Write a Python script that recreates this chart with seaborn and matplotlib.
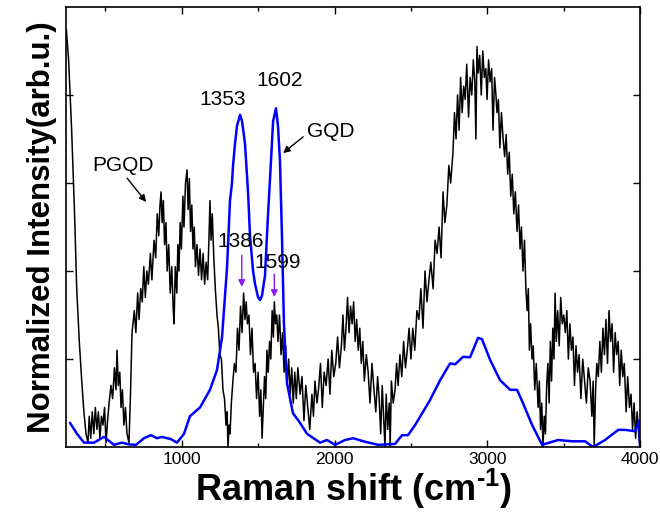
import matplotlib
matplotlib.use("Agg")
import matplotlib.pyplot as plt
import seaborn as sns

# PGQD spectrum (black, noisy)
pgqd_shift = [
    245, 260, 280, 300, 313, 330, 346, 360, 374, 387,
    395, 405, 415, 425, 435, 445, 455, 465, 475, 485, 495, 505, 515,
    525, 537, 548, 560, 570, 577, 585, 595, 603, 612, 622, 632, 642, 655,
    665, 675, 690, 700, 712, 721, 732, 742, 752, 762,
    772, 782, 795, 805, 819, 830, 840, 850, 858, 865,
    872, 880, 888, 897, 905, 915, 925, 935, 945, 950,
    958, 968, 975, 982, 990, 998, 1008, 1015, 1025, 1035,
    1042, 1050, 1058, 1066, 1074, 1082, 1090, 1100, 1110, 1120,
    1130, 1140, 1150, 1160, 1170, 1178, 1185, 1192, 1200, 1210,
    1220, 1231, 1240, 1250, 1260, 1270, 1280, 1290, 1297, 1303,
    1310, 1316,
    1325, 1335, 1345, 1355, 1365, 1375, 1385, 1395, 1405, 1414,
    1422, 1430, 1440, 1450, 1460, 1470, 1480, 1490, 1500, 1510,
    1518, 1526, 1534, 1542, 1550, 1558, 1566, 1575, 1583, 1592,
    1600, 1606, 1614, 1622, 1630, 1640, 1650, 1660, 1670, 1680,
    1690, 1700, 1710, 1720, 1730, 1740, 1750, 1760,
    1775, 1787, 1800, 1812, 1825, 1838, 1852, 1862, 1872, 1885,
    1895, 1908, 1920, 1932, 1945, 1958, 1970, 1982, 1995, 2008,
    2020, 2032, 2045, 2055, 2065, 2075, 2085, 2095, 2105, 2115,
    2125, 2135, 2145, 2155, 2165, 2175, 2185, 2195, 2208, 2220,
    2232, 2245, 2258, 2270, 2282, 2292, 2302, 2312, 2322, 2330,
    2338, 2348, 2358, 2364, 2372, 2384, 2396, 2406, 2416, 2428,
    2440, 2452, 2464, 2476, 2488, 2500,
    2512, 2525, 2539, 2552, 2565, 2579, 2592, 2605, 2618, 2630,
    2645, 2658, 2671, 2684, 2697, 2710, 2722, 2735, 2748, 2760,
    2775, 2785, 2795, 2805, 2815, 2825, 2835, 2845, 2855, 2865,
    2877, 2887, 2898, 2908, 2918, 2925, 2932, 2940, 2950, 2960,
    2970, 2980, 2990, 2998, 3008, 3018, 3028, 3037, 3047, 3056,
    3063, 3072, 3082, 3092, 3103, 3113, 3123, 3133, 3143, 3153,
    3163, 3173, 3183, 3194, 3204, 3214, 3223, 3233, 3243, 3252,
    3260, 3268, 3275, 3283,
    3292, 3300, 3310, 3320, 3332, 3340, 3348, 3356, 3364, 3372,
    3380, 3388, 3396, 3404, 3412, 3420, 3428, 3436, 3443, 3451,
    3460, 3470, 3480, 3490, 3500, 3510, 3520, 3530, 3540, 3550,
    3560, 3570, 3580, 3590, 3600, 3612, 3624, 3636, 3648, 3660,
    3672, 3684, 3692, 3699, 3708, 3716, 3726, 3736, 3746, 3756,
    3766, 3776, 3786, 3796, 3806, 3816, 3826, 3836, 3846, 3856,
    3866, 3876, 3886, 3896, 3908, 3918, 3930, 3940, 3950, 3960,
    3970, 3980, 3990, 3998,
]
pgqd_int = [
    0.95, 0.88, 0.72, 0.52, 0.36, 0.24, 0.15, 0.08, 0.03, 0.01,
    0.07, 0.02, 0.08, 0.03, 0.09, 0.04, 0.08, 0.02, 0.07, 0.05, 0.09, 0.01, 0.06,
    0.10, 0.14, 0.11, 0.18, 0.13, 0.22, 0.14, 0.17, 0.09, 0.13, 0.05, 0.09, 0.03, 0.01,
    0.12, 0.26, 0.31, 0.26, 0.35, 0.29, 0.36, 0.33, 0.41, 0.34,
    0.40, 0.37, 0.44, 0.38, 0.47, 0.43, 0.53, 0.48, 0.55, 0.58,
    0.51, 0.56, 0.46, 0.51, 0.40, 0.46, 0.35, 0.41, 0.31, 0.28,
    0.41, 0.35, 0.46, 0.40, 0.51, 0.45, 0.57, 0.50, 0.60, 0.63,
    0.54, 0.61, 0.49, 0.55, 0.45, 0.50, 0.41, 0.46, 0.39, 0.45,
    0.38, 0.44, 0.37, 0.42, 0.38, 0.47, 0.56, 0.47, 0.53, 0.43,
    0.36, 0.30, 0.27, 0.21, 0.20, 0.13, 0.11, 0.05, 0.08, 0.00,
    0.05, 0.03,
    0.10, 0.15, 0.19, 0.17, 0.27, 0.22, 0.32, 0.26, 0.35, 0.29,
    0.33, 0.28, 0.30, 0.21, 0.27, 0.17, 0.19, 0.11, 0.17, 0.07,
    0.13, 0.02, 0.09, 0.16, 0.11, 0.22, 0.17, 0.24, 0.20, 0.31,
    0.25, 0.33, 0.28, 0.30, 0.24, 0.30, 0.21, 0.26, 0.17, 0.23,
    0.14, 0.20, 0.12, 0.18, 0.10, 0.17, 0.11, 0.18,
    0.12, 0.16, 0.06, 0.14, 0.09, 0.04, 0.12, 0.07, 0.15, 0.10,
    0.13, 0.19, 0.09, 0.17, 0.14, 0.20, 0.12, 0.22, 0.16, 0.19,
    0.25, 0.18, 0.23, 0.30, 0.22, 0.27, 0.34, 0.26, 0.32, 0.28,
    0.33, 0.24, 0.29, 0.22, 0.27, 0.19, 0.24, 0.15, 0.21, 0.17,
    0.10, 0.19, 0.13, 0.08, 0.16, 0.11, 0.03, 0.14, 0.06, 0.00,
    0.12, 0.04, 0.10, 0.00, 0.15, 0.10, 0.13, 0.19, 0.14, 0.21,
    0.16, 0.24, 0.18, 0.22, 0.27, 0.20,
    0.27, 0.22, 0.31, 0.29, 0.36, 0.27, 0.40, 0.33, 0.38, 0.42,
    0.36, 0.47, 0.44, 0.50, 0.43, 0.58, 0.51, 0.55, 0.64, 0.60,
    0.67, 0.76, 0.70, 0.80, 0.72, 0.84, 0.76, 0.82, 0.79, 0.87,
    0.75, 0.84, 0.80, 0.88, 0.83, 0.70, 0.91, 0.85, 0.89, 0.80,
    0.90, 0.84, 0.86, 0.79, 0.88, 0.83, 0.86, 0.72, 0.84, 0.80,
    0.76, 0.79, 0.68, 0.76, 0.70, 0.66, 0.71, 0.62, 0.67, 0.57,
    0.62, 0.53, 0.58, 0.49, 0.55, 0.45, 0.50, 0.40, 0.47, 0.36,
    0.31, 0.36, 0.22, 0.28,
    0.20, 0.23, 0.13, 0.19, 0.09, 0.15, 0.04, 0.10, 0.00, 0.07,
    0.03, 0.14, 0.19, 0.10, 0.24, 0.15, 0.27, 0.20, 0.35, 0.24,
    0.31, 0.23, 0.34, 0.28, 0.30, 0.26, 0.31, 0.20, 0.28, 0.22,
    0.25, 0.14, 0.23, 0.17, 0.21, 0.11, 0.20, 0.15, 0.10, 0.18,
    0.15, 0.07, 0.15, 0.00, 0.13, 0.19, 0.16, 0.24, 0.17, 0.27,
    0.21, 0.29, 0.19, 0.31, 0.24, 0.28, 0.17, 0.26, 0.21, 0.24,
    0.14, 0.22, 0.16, 0.19, 0.08, 0.16, 0.09, 0.12, 0.04, 0.10,
    0.02, 0.08, 0.03, 0.00,
]

# GQD spectrum (blue, smooth)
gqd_shift = [
    269, 315, 361, 426, 491, 557, 609, 655, 701, 753,
    799, 838, 871, 930, 969, 1015, 1054, 1120, 1185, 1231,
    1264, 1297, 1316, 1329, 1336, 1349, 1362, 1382, 1395, 1414,
    1434, 1447, 1467, 1480, 1500, 1513, 1526, 1545, 1565, 1578,
    1598, 1617, 1630, 1643, 1656, 1669, 1689, 1728, 1774, 1820,
    1905, 1951, 2003, 2069, 2121, 2200, 2285, 2396, 2442, 2481,
    2527, 2579, 2625, 2691, 2756, 2789, 2841, 2887, 2939, 2965,
    3018, 3083, 3149, 3194, 3233, 3247, 3293, 3358, 3463, 3555,
    3640, 3692, 3770, 3856, 3901, 3967, 3993, 3999,
]
gqd_int = [
    0.055, 0.030, 0.010, 0.010, 0.023, 0.005, 0.010, 0.006, 0.005, 0.020,
    0.027, 0.020, 0.023, 0.018, 0.010, 0.030, 0.070, 0.090, 0.130, 0.175,
    0.250, 0.410, 0.560, 0.600, 0.640, 0.690, 0.730, 0.755, 0.740, 0.690,
    0.580, 0.480, 0.400, 0.370, 0.340, 0.334, 0.345, 0.390, 0.530, 0.610,
    0.740, 0.770, 0.730, 0.650, 0.480, 0.280, 0.145, 0.077, 0.055, 0.030,
    0.010, 0.016, 0.005, 0.016, 0.020, 0.012, 0.005, 0.007, 0.027, 0.027,
    0.050, 0.080, 0.107, 0.152, 0.190, 0.188, 0.205, 0.204, 0.248, 0.245,
    0.198, 0.152, 0.130, 0.130, 0.100, 0.088, 0.050, 0.005, 0.016, 0.013,
    0.013, 0.000, 0.016, 0.039, 0.039, 0.036, 0.060, 0.000,
]

sns.set_style("ticks")
plt.rcParams['font.family'] = ['Liberation Sans', 'DejaVu Sans']
plt.rcParams['mathtext.fontset'] = 'custom'
plt.rcParams['mathtext.rm'] = 'Liberation Sans:bold'
plt.rcParams['mathtext.bf'] = 'Liberation Sans:bold'
for k in ['text.color', 'axes.labelcolor', 'xtick.color', 'ytick.color', 'axes.edgecolor']:
    plt.rcParams[k] = 'black'

fig, ax = plt.subplots(figsize=(6.6, 5.18), dpi=100)
fig.subplots_adjust(left=0.1, right=0.97, top=0.9865, bottom=0.137)

sns.lineplot(x=pgqd_shift, y=pgqd_int, ax=ax, color='black', lw=1.1,
             estimator=None, sort=False)
sns.lineplot(x=gqd_shift, y=gqd_int, ax=ax, color='#0000ff', lw=1.8,
             estimator=None, sort=False)

ax.set_xlim(243, 4000)
ax.set_ylim(0, 1)
ax.set_xticks([1000, 2000, 3000, 4000])
ax.set_xticks([500, 1500, 2500, 3500], minor=True)
ax.set_yticks([0.2, 0.4, 0.6, 0.8])
ax.set_yticklabels([])
ax.tick_params(axis='both', which='both', direction='in', top=True, right=True,
               labelsize=12.5, width=1, color='black')
ax.tick_params(which='major', length=5)
ax.tick_params(which='minor', length=3)
for s in ax.spines.values():
    s.set_linewidth(1.2)

ax.set_xlabel(r'Raman shift (cm$^{\text{-1}}$)', fontsize=26, fontweight='bold', labelpad=0)
ax.set_ylabel('Normalized Intensity(arb.u.)', fontsize=22.5, fontweight='bold', labelpad=3)

# peak labels and arrows
fs = 15
ax.text(1271, 0.79, '1353', fontsize=fs, ha='center', va='center')
ax.text(1643, 0.834, '1602', fontsize=fs, ha='center', va='center')
ax.text(1388, 0.468, '1386', fontsize=fs, ha='center', va='center')
ax.text(1630, 0.42, '1599', fontsize=fs, ha='center', va='center')
ax.text(616, 0.64, 'PGQD', fontsize=fs, ha='center', va='center')
ax.text(1975, 0.716, 'GQD', fontsize=fs, ha='center', va='center')

black_arrow = dict(arrowstyle='-|>', color='black', lw=1, mutation_scale=10,
                   shrinkA=0, shrinkB=0)
ax.annotate('', xy=(767, 0.557), xytext=(643, 0.611), arrowprops=black_arrow)
ax.annotate('', xy=(1663, 0.668), xytext=(1795, 0.705), arrowprops=black_arrow)
for xa, y0, y1 in [(1393, 0.436, 0.364), (1606, 0.393, 0.341)]:
    ax.annotate('', xy=(xa, y1), xytext=(xa, y0),
                arrowprops=dict(arrowstyle='-|>', color='#8b1cf0', lw=1,
                                mutation_scale=10, shrinkA=0, shrinkB=0))

fig.savefig('out.png', dpi=100)
